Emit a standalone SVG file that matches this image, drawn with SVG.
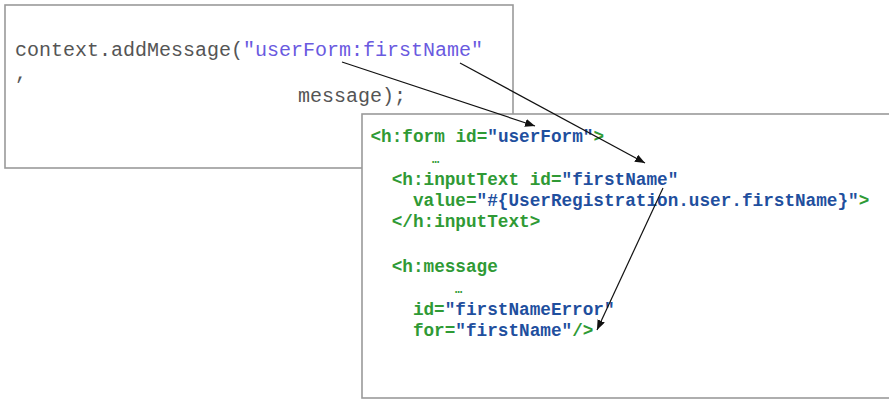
<svg xmlns="http://www.w3.org/2000/svg" width="889" height="400" viewBox="0 0 889 400">
  <style>
    .box { fill: #ffffff; stroke: #9a9a9a; stroke-width: 1.6; }
    .java { font-family: "Liberation Mono", "Courier New", monospace; font-size: 20px; fill: #555555; }
    .str { fill: #6a5ae0; }
    .jsf { font-family: "Liberation Mono", "Courier New", monospace; font-size: 17.7px; font-weight: bold; fill: #2f9a35; }
    .val { fill: #1f4f9e; }
    .dots { font-size: 12px; }
    .link { stroke: #111111; stroke-width: 1.2; fill: none; marker-end: url(#head); }
  </style>
  <defs>
    <marker id="head" viewBox="0 0 10 8" refX="10" refY="4" markerWidth="10" markerHeight="8" markerUnits="userSpaceOnUse" orient="auto">
      <path d="M0,0 L10,4 L0,8 Z" fill="#111111"/>
    </marker>
  </defs>

  <!-- Java snippet -->
  <g id="java-code">
    <rect class="box" x="5" y="5" width="508" height="163"/>
    <text class="java" x="15" y="56">context.addMessage(<tspan class="str">"userForm:firstName"</tspan></text>
    <text class="java" x="15" y="79">,</text>
    <text class="java" x="298" y="102">message);</text>
  </g>

  <!-- JSF page -->
  <g id="jsf-page">
    <rect class="box" x="362" y="114" width="540" height="284"/>
    <text class="jsf" x="370.5" y="142">&lt;h:form id=<tspan class="val">"userForm"</tspan>&gt;</text>
    <text class="jsf dots" x="432" y="163">…</text>
    <text class="jsf" x="391.7" y="185">&lt;h:inputText id=<tspan class="val">"firstName"</tspan></text>
    <text class="jsf" x="412.9" y="206">value=<tspan class="val">"#{UserRegistration.user.firstName}"</tspan>&gt;</text>
    <text class="jsf" x="391.7" y="227">&lt;/h:inputText&gt;</text>
    <text class="jsf" x="391.7" y="272">&lt;h:message</text>
    <text class="jsf dots" x="455" y="293">…</text>
    <text class="jsf" x="412.9" y="315">id=<tspan class="val">"firstNameError"</tspan></text>
    <text class="jsf" x="412.9" y="336">for=<tspan class="val">"firstName"</tspan>/&gt;</text>
  </g>

  <!-- reference arrows -->
  <g id="connectors">
    <line class="link" x1="342" y1="62" x2="535" y2="126"/>
    <line class="link" x1="460" y1="63" x2="645" y2="163"/>
    <line class="link" x1="663" y1="188" x2="597" y2="330"/>
  </g>
</svg>
